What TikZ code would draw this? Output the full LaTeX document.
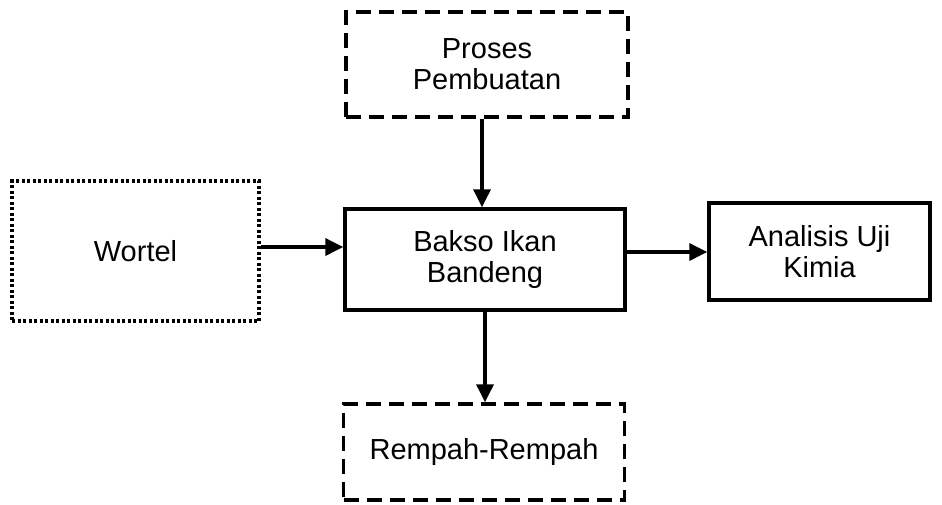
\documentclass[tikz,border=0pt]{standalone}
\usepackage{fontspec}
\setmainfont{Liberation Sans}
\usetikzlibrary{arrows.meta}
\begin{document}
\begin{tikzpicture}[x=1pt,y=-1pt,
  box/.style={draw=black,line width=3.4pt,inner sep=0pt,align=center,
    font=\fontsize{29}{31}\selectfont},
  dashbox/.style={box,dash pattern=on 15pt off 8pt},
  dotbox/.style={box,line width=3.4pt,dash pattern=on 3pt off 2.5pt},
  arr/.style={line width=3.4pt,-{Triangle[length=18pt,width=17pt]}}]
\useasboundingbox (0,0) rectangle (942,504);
\node[dashbox,minimum width=282pt,minimum height=105pt] (proses) at (487,64.5) {Proses\\Pembuatan};
\node[dotbox,minimum width=247pt,minimum height=140pt] (wortel) at (135.5,251) {Wortel};
\node[box,minimum width=280pt,minimum height=101pt] (bakso) at (485,259.5) {Bakso Ikan\\Bandeng};
\node[box,minimum width=221pt,minimum height=97pt] (analisis) at (819.5,251.5) {Analisis Uji\\Kimia};
\node[dashbox,minimum width=281pt,minimum height=96pt] (rempah) at (484,452) {Rempah-Rempah};
\draw[arr] ([xshift=-5pt]proses.south) -- ([xshift=-3pt]bakso.north);
\draw[arr] ([yshift=4pt]wortel.east) -- ([yshift=12.5pt]bakso.west);
\draw[arr] ([yshift=7.5pt]bakso.east) -- ([yshift=-0.5pt]analisis.west);
\draw[arr] (bakso.south) -- ([xshift=1pt]rempah.north);
\end{tikzpicture}
\end{document}
